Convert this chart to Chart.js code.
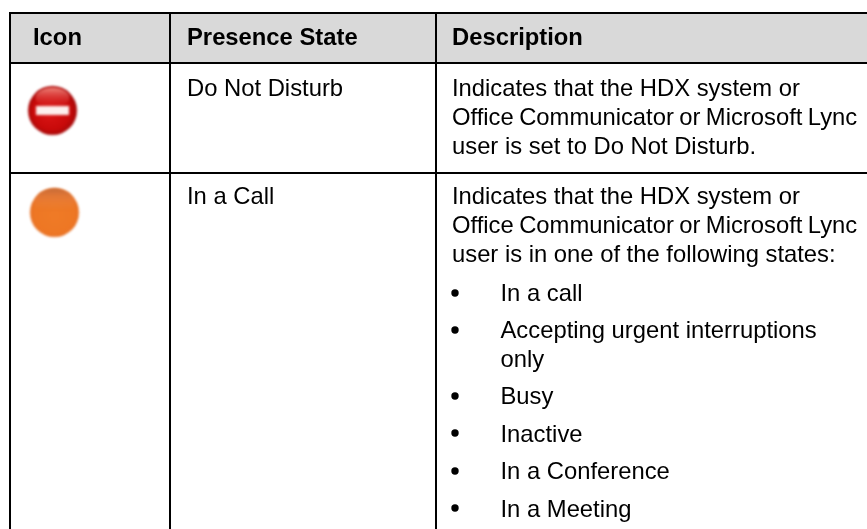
<!DOCTYPE html>
<html>
<head>
<meta charset="utf-8">
<style>
html, body { margin: 0; padding: 0; background: #fff; }
canvas { display: block; }
</style>
<script src="https://cdn.jsdelivr.net/npm/chart.js@4/dist/chart.umd.min.js"></script>
</head>
<body>
<canvas id="presence-table" width="867" height="529"></canvas>
<script>
// table text
const headers = ['Icon', 'Presence State', 'Description'];
const states = ['Do Not Disturb', 'In a Call'];
const descriptions = [
    'Indicates that the HDX system or',
    'Office Communicator or Microsoft Lync',
    'user is set to Do Not Disturb.',
    'Indicates that the HDX system or',
    'Office Communicator or Microsoft Lync',
    'user is in one of the following states:'
];
const listItems = ['In a call', 'Accepting urgent interruptions', 'only', 'Busy', 'Inactive', 'In a Conference', 'In a Meeting'];

// rules and text anchors, in scale units
const columnRules = [10, 170, 436];
const rowRules = [13, 63, 173];
const headerX = [33, 187, 452];
const headerY = 45;
const stateY = [96, 204];
const descriptionY = [96, 125, 154, 204, 233, 262];
const listX = 500.5;
const listY = [301, 338, 367, 404, 442, 479, 517];

// marks
const iconX = [52.5, 54.5];
const iconY = [110.5, 212.5];
const bulletX = [455, 455, 455, 455, 455, 455];
const bulletY = [293, 330, 396, 433, 471, 508];

function makeIcon(paint) {
    const c = document.createElement('canvas');
    c.width = 56;
    c.height = 56;
    const g = c.getContext('2d');
    g.filter = 'blur(1px)';
    paint(g);
    return c;
}

const doNotDisturbIcon = makeIcon(g => {
    let fill = g.createRadialGradient(24, 30, 3, 28, 28, 25);
    fill.addColorStop(0, '#d81414');
    fill.addColorStop(0.72, '#c80a0a');
    fill.addColorStop(1, '#a20808');
    g.fillStyle = fill;
    g.beginPath();
    g.arc(28, 28, 24.5, 0, Math.PI * 2);
    g.fill();
    fill = g.createLinearGradient(0, 6, 0, 24);
    fill.addColorStop(0, 'rgba(248,150,140,0.8)');
    fill.addColorStop(1, 'rgba(220,50,50,0.1)');
    g.fillStyle = fill;
    g.beginPath();
    g.ellipse(28, 15, 17, 10, 0, 0, Math.PI * 2);
    g.fill();
    g.fillStyle = '#fdf0ee';
    g.fillRect(11.5, 23.5, 33, 9);
});

const inCallIcon = makeIcon(g => {
    let fill = g.createRadialGradient(28, 32, 3, 28, 28, 25);
    fill.addColorStop(0, '#ef7a26');
    fill.addColorStop(0.8, '#ee7724');
    fill.addColorStop(1, '#e56f24');
    g.fillStyle = fill;
    g.beginPath();
    g.arc(28, 28, 24.5, 0, Math.PI * 2);
    g.fill();
    fill = g.createLinearGradient(0, 4, 0, 26);
    fill.addColorStop(0, 'rgba(190,105,60,0.8)');
    fill.addColorStop(0.5, 'rgba(225,125,70,0.45)');
    fill.addColorStop(1, 'rgba(240,140,70,0)');
    g.fillStyle = fill;
    g.beginPath();
    g.ellipse(28, 19, 20, 15, 0, 0, Math.PI * 2);
    g.fill();
});

const tablePlugin = {
    id: 'tableCells',
    beforeDatasetsDraw(chart) {
        const { ctx, scales: { x, y } } = chart;
        const top = y.getPixelForValue(rowRules[0]);
        const bandHeight = y.getPixelForValue(rowRules[1]) - top;
        ctx.save();
        ctx.fillStyle = '#d9d9d9';
        ctx.fillRect(x.getPixelForValue(columnRules[0]), top, chart.width, bandHeight);
        // the fill sits over the grid, so put the rules back on the band
        ctx.fillStyle = '#000';
        columnRules.forEach(v => ctx.fillRect(x.getPixelForValue(v) - 1, top, 2, bandHeight));
        rowRules.slice(0, 2).forEach(v => ctx.fillRect(x.getPixelForValue(columnRules[0]) - 1, y.getPixelForValue(v) - 1, chart.width, 2));
        ctx.restore();
    },
    afterDatasetsDraw(chart) {
        const { ctx, scales: { x, y } } = chart;
        const put = (s, vx, vy) => ctx.fillText(s, x.getPixelForValue(vx), y.getPixelForValue(vy));
        ctx.save();
        ctx.fillStyle = '#000';
        ctx.textBaseline = 'alphabetic';
        ctx.font = 'bold 23.8px "Liberation Sans"';
        headers.forEach((s, i) => put(s, headerX[i], headerY));
        ctx.font = '23.8px "Liberation Sans"';
        states.forEach((s, i) => put(s, headerX[1], stateY[i]));
        descriptions.forEach((s, i) => {
            // the long line is set tighter in the original
            ctx.wordSpacing = s.startsWith('Office') ? '-1.2px' : '0px';
            put(s, headerX[2], descriptionY[i]);
        });
        ctx.wordSpacing = '0px';
        listItems.forEach((s, i) => put(s, listX, listY[i]));
        ctx.restore();
    }
};

const gridAxis = (min, max, rules) => ({
    type: 'linear',
    min: min,
    max: max,
    afterBuildTicks(scale) {
        scale.ticks = rules.map(v => ({ value: v }));
    },
    ticks: { display: false },
    border: { display: false },
    grid: { color: '#000', lineWidth: 2, drawTicks: false, tickLength: 0 }
});

new Chart(document.getElementById('presence-table'), {
    type: 'scatter',
    data: {
        datasets: [
            {
                label: 'Icon',
                data: iconX.map((v, i) => ({ x: v, y: iconY[i] })),
                pointStyle: [doNotDisturbIcon, inCallIcon],
                pointRadius: 28
            },
            {
                label: 'Bullet',
                data: bulletX.map((v, i) => ({ x: v, y: bulletY[i] })),
                pointStyle: 'circle',
                pointRadius: 3.7,
                pointBorderWidth: 0,
                pointBackgroundColor: '#000'
            }
        ]
    },
    options: {
        responsive: false,
        animation: false,
        events: [],
        layout: { autoPadding: false, padding: { left: 9, top: 12 } },
        plugins: { legend: { display: false }, tooltip: { enabled: false } },
        scales: {
            x: gridAxis(9, 867, columnRules),
            y: Object.assign(gridAxis(12, 529, rowRules), { reverse: true })
        }
    },
    plugins: [tablePlugin]
});
</script>
</body>
</html>
